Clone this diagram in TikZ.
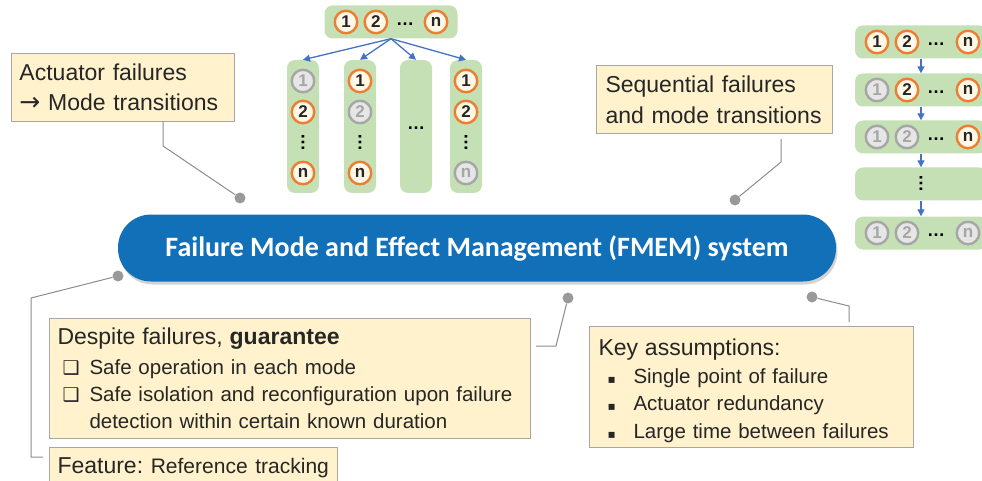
\documentclass[tikz,border=0pt]{standalone}
\usepackage{fontspec}
\setmainfont{Liberation Sans}
\newfontfamily\symfont{DejaVu Sans}
\newfontfamily\pillfont{Carlito}
\usetikzlibrary{arrows.meta,shapes,positioning,calc,shadows}
\frenchspacing

\definecolor{notefill}{HTML}{FFF2CC}
\definecolor{notegray}{HTML}{A6A6A6}
\definecolor{notetext}{HTML}{262626}
\definecolor{pillblue}{HTML}{1170B8}
\definecolor{modegreen}{HTML}{C5E0B4}
\definecolor{modeorange}{HTML}{ED7D31}
\definecolor{modecream}{HTML}{FFF8E6}
\definecolor{offgray}{HTML}{A6A6A6}
\definecolor{offfill}{HTML}{E7E6E6}
\definecolor{flowblue}{HTML}{4472C4}
\definecolor{dotgray}{HTML}{999999}
\definecolor{linegray}{HTML}{8C8C8C}

\newcommand{\sqitem}{\makebox[32pt][l]{\hspace{5pt}{\symfont\fontsize{19}{19}\selectfont ❑}}}
\newcommand{\sqbul}{\makebox[35pt][l]{\hspace{9pt}{\symfont\fontsize{12}{12}\selectfont ▪}}}
\newcommand{\hdots}{{\bfseries\fontsize{18}{18}\selectfont …}}

\begin{document}
\begin{tikzpicture}[x=1pt,y=-1pt,
		bar/.style={fill=modegreen,rounded corners=8pt,inner sep=0pt},
		mode on/.style={circle,draw=modeorange,line width=2.4pt,fill=modecream,minimum size=22.5pt,inner sep=0pt,text=notetext,font=\bfseries\fontsize{17}{17}\selectfont},
		mode off/.style={mode on,draw=offgray,fill=offfill,text=offgray},
		vdts/.style={rotate=90,inner sep=0pt},
		note/.style={draw=notegray,fill=notefill,line width=1pt,anchor=north west,align=left,inner xsep=8pt,inner ysep=0pt,text=notetext},
		pill/.style={rounded corners=33pt,fill=pillblue,minimum width=718pt,minimum height=67pt,text=white,font=\pillfont\bfseries\fontsize{28}{28}\selectfont,drop shadow={shadow xshift=1.5pt,shadow yshift=-3pt,opacity=.35}},
		dot/.style={circle,fill=dotgray,minimum size=11pt,inner sep=0pt},
		link/.style={draw=linegray,line width=1pt},
		flow/.style={draw=flowblue,line width=1.3pt,-{Triangle[length=7pt,width=7pt]}}]
		
		\useasboundingbox (0,0) rectangle (982,481);
		
		% central system
		\node[pill] (fmem) at (477,248) {Failure Mode and Effect Management (FMEM) system};
		
		% mode transitions (top)
		\node[bar,minimum width=133pt,minimum height=33pt] (tr) at (391,22) {};
		\node[mode on] (t1) at (346,22) {1};
		\node[mode on,right=5pt of t1] (t2) {2};
		\node (td) at (405,24) {\hdots};
		\node[mode on] (tn) at (436,22) {n};
		
		\node[bar,minimum width=32pt,minimum height=133pt] (c1) at (303,126.5) {};
		\node[bar,minimum width=32pt,minimum height=133pt] (c2) at (360,126.5) {};
		\node[bar,minimum width=32pt,minimum height=133pt] (c3) at (416,126.5) {};
		\node[bar,minimum width=32pt,minimum height=133pt] (c4) at (466,126.5) {};
		
		\node[mode off] (c1a) at (303,81) {1};
		\node[mode on] (c1b) at (303,112) {2};
		\node[vdts] (c1d) at (303,143) {\hdots};
		\node[mode on] (c1n) at (303,173) {n};
		
		\node[mode on] (c2a) at (360,81) {1};
		\node[mode off] (c2b) at (360,112) {2};
		\node[vdts] (c2d) at (360,143) {\hdots};
		\node[mode on] (c2n) at (360,173) {n};
		
		\node (c3d) at (416,128) {\hdots};
		
		\node[mode on] (c4a) at (466,81) {1};
		\node[mode on] (c4b) at (466,112) {2};
		\node[vdts] (c4d) at (466,143) {\hdots};
		\node[mode off] (c4n) at (466,173) {n};
		
		\foreach \c in {c1,c2,c3,c4}
		\draw[flow] (tr.south) -- (\c.north);
		
		% sequential failures (right)
		\node[bar,minimum width=132pt,minimum height=33pt] (r1) at (921,42) {};
		\node[bar,minimum width=132pt,minimum height=33pt] (r2) at (921,90) {};
		\node[bar,minimum width=132pt,minimum height=33pt] (r3) at (921,137) {};
		\node[bar,minimum width=132pt,minimum height=33pt] (r4) at (921,184) {};
		\node[bar,minimum width=132pt,minimum height=33pt] (r5) at (921,233) {};
		
		\node[mode on] (r1a) at (877,42) {1};
		\node[mode on] (r1b) at (907,42) {2};
		\node (r1d) at (936,44) {\hdots};
		\node[mode on] (r1n) at (968,42) {n};
		
		\node[mode off] (r2a) at (877,90) {1};
		\node[mode on] (r2b) at (907,90) {2};
		\node (r2d) at (936,92) {\hdots};
		\node[mode on] (r2n) at (968,90) {n};
		
		\node[mode off] (r3a) at (877,137) {1};
		\node[mode off] (r3b) at (907,137) {2};
		\node (r3d) at (936,139) {\hdots};
		\node[mode on] (r3n) at (968,137) {n};
		
		\node[vdts] (r4d) at (921,184) {\hdots};
		
		\node[mode off] (r5a) at (877,233) {1};
		\node[mode off] (r5b) at (907,233) {2};
		\node (r5d) at (936,235) {\hdots};
		\node[mode off] (r5n) at (968,233) {n};
		
		\foreach \a/\b in {r1/r2,r2/r3,r3/r4,r4/r5}
		\draw[flow] (\a.south) -- (\b.north);
		
		% notes
		\node[note,text width=207pt,minimum height=68pt,font=\fontsize{23}{30}\selectfont] (act) at (11,53)
		{Actuator failures\\{\symfont\fontsize{25}{25}\selectfont →} Mode transitions};
		\node[note,text width=218pt,minimum height=68pt,inner xsep=9pt,font=\fontsize{23}{31}\selectfont] (seq) at (596,65)
		{Sequential failures\\and mode transitions};
		\node[note,text width=465pt,minimum height=120pt,font=\fontsize{20.5}{27}\selectfont] (desp) at (49,318)
		{\mbox{\fontsize{23}{27}\selectfont Despite failures, \textbf{guarantee}}\\[3pt]
			\mbox{\sqitem Safe operation in each mode}\\
			\mbox{\sqitem Safe isolation and reconfiguration upon failure}\\
			\mbox{\hspace*{32pt}detection within certain known duration}};
		\node[note,text width=272pt,minimum height=40pt,font=\fontsize{23}{27}\selectfont] (feat) at (49,447)
		{\mbox{Feature:\fontsize{21}{27}\selectfont{} Reference tracking}};
		\node[note,text width=306pt,minimum height=121pt,inner xsep=9pt,font=\fontsize{20.5}{27.5}\selectfont] (key) at (589,326)
		{\mbox{\fontsize{23}{27.5}\selectfont\rule{0pt}{24pt}Key assumptions:}\\
			\mbox{\sqbul Single point of failure}\\
			\mbox{\sqbul Actuator redundancy}\\
			\mbox{\sqbul Large time between failures}};
		
		% anchor dots and links
		\node[dot] (d1) at (240,198) {};
		\node[dot] (d2) at (735,200) {};
		\node[dot] (d3) at (118,276) {};
		\node[dot] (d4) at (568,298) {};
		\node[dot] (d5) at (812,297) {};
		
		\draw[link] (d1) -- ++(-77,-52) coordinate (k1) -- (k1 |- act.south);
		\draw[link,shorten >=5pt] (d2) -- ++(46,-38) coordinate (k2) -- (k2 |- seq.south);
		\draw[link] (d3) -- ++(-87,22) coordinate (k3) |- ($(feat.north west)+(-6,10)$);
		\draw[link,shorten >=5pt] (d4) -- ++(-12,48) coordinate (k4) -- (k4 -| desp.east);
		\draw[link,shorten >=4pt] (d5) -- ++(37,9) coordinate (k5) -- (k5 |- key.north);
		
	\end{tikzpicture}
\end{document}
